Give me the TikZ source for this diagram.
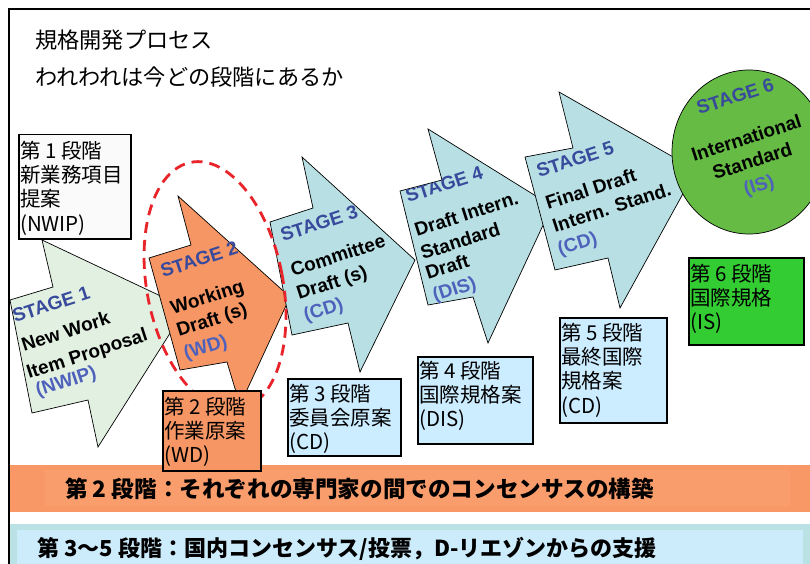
\documentclass[tikz,border=0pt]{standalone}
\usepackage{fontspec}
\setmainfont{Liberation Sans}
\newfontfamily\jp{Noto Sans CJK JP}
\newfontfamily\en{Liberation Sans}
\definecolor{stgblue}{RGB}{55,74,155}
\definecolor{abbblue}{RGB}{78,98,188}
\definecolor{sonegreen}{RGB}{226,240,226}
\definecolor{stwoorange}{RGB}{246,150,100}
\definecolor{sthreeblue}{RGB}{184,224,228}
\definecolor{boxblue}{RGB}{204,236,255}
\definecolor{boxsixgreen}{RGB}{51,204,51}
\definecolor{circgreen}{RGB}{102,187,68}
\definecolor{dashred}{RGB}{232,35,42}
\definecolor{barorange}{RGB}{247,152,102}
\definecolor{barorangein}{RGB}{249,157,108}
\definecolor{barteal}{RGB}{186,225,228}
\definecolor{barblue}{RGB}{204,236,252}
\definecolor{boxonegray}{RGB}{250,250,250}
\begin{document}
\begin{tikzpicture}[x=1pt,y=-1pt,
  arrowshape/.style={draw=black, line width=0.7pt, line join=miter},
  stg/.style={font=\en\bfseries\fontsize{19}{19}\selectfont, text=stgblue, rotate=18, anchor=base west, inner sep=0pt},
  lbl/.style={font=\en\bfseries\fontsize{19}{19}\selectfont, text=black, rotate=18, anchor=base west, inner sep=0pt},
  abbr/.style={lbl, text=abbblue},
  jbox/.style={draw=black, line width=1.5pt, anchor=north west, inner sep=0pt},
  jtext/.style={font=\jp\fontsize{20.5}{24.2}\selectfont, align=left, anchor=north west, inner sep=0pt},
  bartext/.style={font=\jp\bfseries\fontsize{22}{22}\selectfont, anchor=west, inner sep=0pt},
  titletext/.style={font=\jp\fontsize{22.2}{22}\selectfont, anchor=west, inner sep=0pt}
]
\useasboundingbox (0,0) rectangle (810,564);
\fill[white] (0,0) rectangle (810,564);

% bottom bars
\fill[barorange] (9,465) rectangle (810,512);
\fill[barorangein] (45,470) rectangle (790,506);
\fill[barteal] (9,524) rectangle (810,564);
\fill[barblue] (17,530) rectangle (803,564);
\node[bartext, font=\jp\bfseries\fontsize{22.6}{22}\selectfont] (bar1) at (65,489) {第 2 段階：それぞれの専門家の間でのコンセンサスの構築};
\node[bartext] (bar2) at (37,549) {第 3～5 段階：国内コンセンサス/投票，D-リエゾンからの支援};

% title
\node[titletext] (title1) at (35,40) {規格開発プロセス};
\node[titletext] (title2) at (35,77) {われわれは今どの段階にあるか};

% stage 1
\draw[arrowshape, fill=sonegreen] (10,300) -- (53,287) -- (42,240) -- (186,308) -- (98,447) -- (88,400) -- (32,413) -- cycle;
\node[stg] (s1a) at (15,323) {STAGE 1};
\node[lbl] (s1b) at (24,352) {New Work};
\node[lbl] (s1c) at (29,379) {Item Proposal};
\node[abbr] (s1d) at (38,397) {(NWIP)};

% stage 2
\draw[arrowshape, fill=stwoorange] (149,258) -- (191,245) -- (178,196) -- (290,297) -- (240,405) -- (227,362) -- (180,370) -- cycle;
\node[stg] (s2a) at (163,278) {STAGE 2};
\node[lbl] (s2b) at (173,315) {Working};
\node[lbl] (s2c) at (179,337) {Draft (s)};
\node[abbr] (s2d) at (186,360) {(WD)};

% stage 3
\draw[arrowshape, fill=sthreeblue] (270,222) -- (313,208) -- (302,157) -- (415,260) -- (360,372) -- (348,323) -- (292,335) -- cycle;
\node[stg] (s3a) at (283,242) {STAGE 3};
\node[lbl] (s3b) at (293,277) {Committee};
\node[lbl] (s3c) at (299,300) {Draft (s)};
\node[abbr] (s3d) at (306,322) {(CD)};

% stage 4
\draw[arrowshape, fill=sthreeblue] (400,191) -- (442,180) -- (428,129) -- (552,206) -- (488,343) -- (473,297) -- (428,305) -- cycle;
\begin{scope}
\clip (400,191) -- (442,180) -- (428,129) -- (552,206) -- (488,343) -- (473,297) -- (428,305) -- cycle;
\node[stg] (s4a) at (408,203) {STAGE 4};
\node[lbl] (s4b) at (417,237) {Draft Intern.};
\node[lbl] (s4c) at (423,260) {Standard};
\node[lbl] (s4d) at (428,280) {Draft};
\node[abbr] (s4e) at (435,302) {(DIS)};
\end{scope}

% stage 5
\draw[arrowshape, fill=sthreeblue] (525,157) -- (573,148) -- (559,92) -- (696,170) -- (620,308) -- (608,258) -- (555,270) -- cycle;
\node[stg] (s5a) at (539,178) {STAGE 5};
\node[lbl] (s5b) at (548,210) {Final Draft};
\node[lbl] (s5c) at (555,233) {Intern. Stand.};
\node[abbr] (s5d) at (560,256) {(CD)};

% stage 6
\draw[arrowshape, fill=circgreen] (749,152) ellipse [x radius=77, y radius=82];
\node[stg] (s6a) at (699,115) {STAGE 6};
\node[lbl] (s6b) at (694,162) {International};
\node[lbl] (s6c) at (715,180) {Standard};
\node[abbr] (s6d) at (746,196) {(IS)};

% red dashed ellipse
\draw[dashred, line width=2.8pt, dash pattern=on 11pt off 7pt, rotate around={11:(215,286)}] (215,286) ellipse [x radius=68, y radius=126];

% boxes
\node[jbox, fill=boxonegray, minimum width=112, minimum height=104] (b1) at (18,134) {};
\node[jtext] (t1) at ([xshift=2pt, yshift=-7pt]b1.north west) {第 1 段階\\新業務項目\\提案\\(NWIP)};
\node[jbox, fill=stwoorange, minimum width=98, minimum height=80] (b2) at (162,390) {};
\node[jtext] (t2) at ([xshift=2pt, yshift=-7pt]b2.north west) {第 2 段階\\作業原案\\(WD)};
\node[jbox, fill=boxblue, minimum width=113, minimum height=77] (b3) at (287,378) {};
\node[jtext] (t3) at ([xshift=2pt, yshift=-6pt]b3.north west) {第 3 段階\\委員会原案\\(CD)};
\node[jbox, fill=boxblue, minimum width=115, minimum height=87] (b4) at (417,356) {};
\node[jtext] (t4) at ([xshift=2pt, yshift=-5pt]b4.north west) {第 4 段階\\国際規格案\\(DIS)};
\node[jbox, fill=boxblue, minimum width=107, minimum height=105] (b5) at (559,317) {};
\node[jtext] (t5) at ([xshift=2pt, yshift=-6pt]b5.north west) {第 5 段階\\最終国際\\規格案\\(CD)};
\node[jbox, fill=boxsixgreen, minimum width=115, minimum height=87] (b6) at (688,257) {};
\node[jtext] (t6) at ([xshift=2pt, yshift=-7pt]b6.north west) {第 6 段階\\国際規格\\(IS)};

% frame
\draw[black, line width=2pt] (9,564) -- (9,9) -- (810,9);
\end{tikzpicture}
\end{document}
